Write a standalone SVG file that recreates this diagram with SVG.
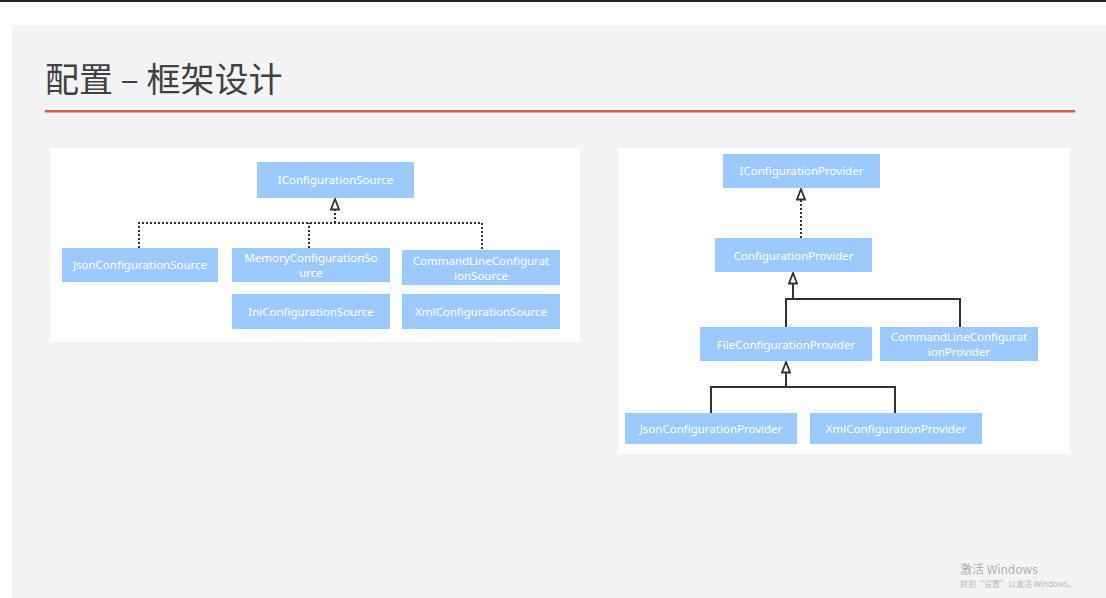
<svg xmlns="http://www.w3.org/2000/svg" width="1106" height="598" viewBox="0 0 1106 598">
<defs>
<style>
.box{fill:#9ccaff;}
.lbl{font-family:"Microsoft YaHei","Noto Sans","Liberation Sans",sans-serif;font-size:11.5px;fill:#ffffff;text-anchor:middle;}
.dot{fill:none;stroke:#333;stroke-width:2;stroke-dasharray:2 2;}
.sol{fill:none;stroke:#333;stroke-width:2;}
</style>
<marker id="tri" markerWidth="13" markerHeight="10" refX="12" refY="5" orient="auto" markerUnits="userSpaceOnUse" viewBox="0 0 13 10">
<path d="M12,5 L1.5,1 L1.5,9 Z" fill="#fff" stroke="#333" stroke-width="1.8"/>
</marker>
</defs>
<rect width="1106" height="598" fill="#ffffff"/>
<rect x="0" y="0" width="1106" height="2" fill="#222"/>
<rect x="12" y="25" width="1094" height="573" fill="#f4f4f6"/>
<text x="45" y="92" font-family="Noto Sans CJK SC,sans-serif" font-size="34" fill="#404040">配置 – 框架设计</text>
<rect x="45" y="110" width="1030" height="2.5" fill="#d9603f"/>
<rect x="50" y="148" width="530" height="194" fill="#ffffff"/>
<rect x="618" y="148" width="452" height="306" fill="#ffffff"/>
<g id="connectors">
<path class="dot" d="M139,248 V223 H482 V250"/>
<path class="dot" d="M309,248 V223"/>
<path class="dot" d="M335,223 V199" marker-end="url(#tri)"/>
<path class="dot" d="M801,238 V189" marker-end="url(#tri)"/>
<path class="sol" d="M786,327 V299 H960 V327"/>
<path class="sol" d="M793,299 V273" marker-end="url(#tri)"/>
<path class="sol" d="M711,413 V387 H895 V413"/>
<path class="sol" d="M786,387 V362" marker-end="url(#tri)"/>
</g>
<g id="IConfigurationSource"><rect class="box" x="257" y="162" width="157" height="36"/><text class="lbl" x="335.5" y="184">IConfigurationSource</text></g>
<g id="JsonConfigurationSource"><rect class="box" x="62" y="248" width="156" height="34"/><text class="lbl" x="140" y="269">JsonConfigurationSource</text></g>
<g id="MemoryConfigurationSource"><rect class="box" x="232" y="248" width="158" height="34"/><text class="lbl" x="311" y="262">MemoryConfigurationSo</text><text class="lbl" x="311" y="277">urce</text></g>
<g id="CommandLineConfigurationSource"><rect class="box" x="402" y="250" width="158" height="35"/><text class="lbl" x="481" y="265">CommandLineConfigurat</text><text class="lbl" x="481" y="280">ionSource</text></g>
<g id="IniConfigurationSource"><rect class="box" x="232" y="294" width="158" height="35"/><text class="lbl" x="311" y="316">IniConfigurationSource</text></g>
<g id="XmlConfigurationSource"><rect class="box" x="402" y="294" width="158" height="35"/><text class="lbl" x="481" y="316">XmlConfigurationSource</text></g>
<g id="IConfigurationProvider"><rect class="box" x="723" y="154" width="157" height="34"/><text class="lbl" x="801.5" y="175">IConfigurationProvider</text></g>
<g id="ConfigurationProvider"><rect class="box" x="715" y="238" width="157" height="34"/><text class="lbl" x="793.5" y="260">ConfigurationProvider</text></g>
<g id="FileConfigurationProvider"><rect class="box" x="700" y="327" width="172" height="34"/><text class="lbl" x="786" y="349">FileConfigurationProvider</text></g>
<g id="CommandLineConfigurationProvider"><rect class="box" x="880" y="327" width="158" height="34"/><text class="lbl" x="959" y="341">CommandLineConfigurat</text><text class="lbl" x="959" y="356">ionProvider</text></g>
<g id="JsonConfigurationProvider"><rect class="box" x="625" y="413" width="172" height="31"/><text class="lbl" x="711" y="433">JsonConfigurationProvider</text></g>
<g id="XmlConfigurationProvider"><rect class="box" x="810" y="413" width="172" height="31"/><text class="lbl" x="896" y="433">XmlConfigurationProvider</text></g>
<text x="960" y="574" font-family="Noto Sans CJK SC,sans-serif" font-size="12" fill="#b0b0b0">激活 Windows</text>
<text x="960" y="587" font-family="Noto Sans CJK SC,sans-serif" font-size="8" fill="#b8b8b8">转到“设置”以激活 Windows。</text>
</svg>
